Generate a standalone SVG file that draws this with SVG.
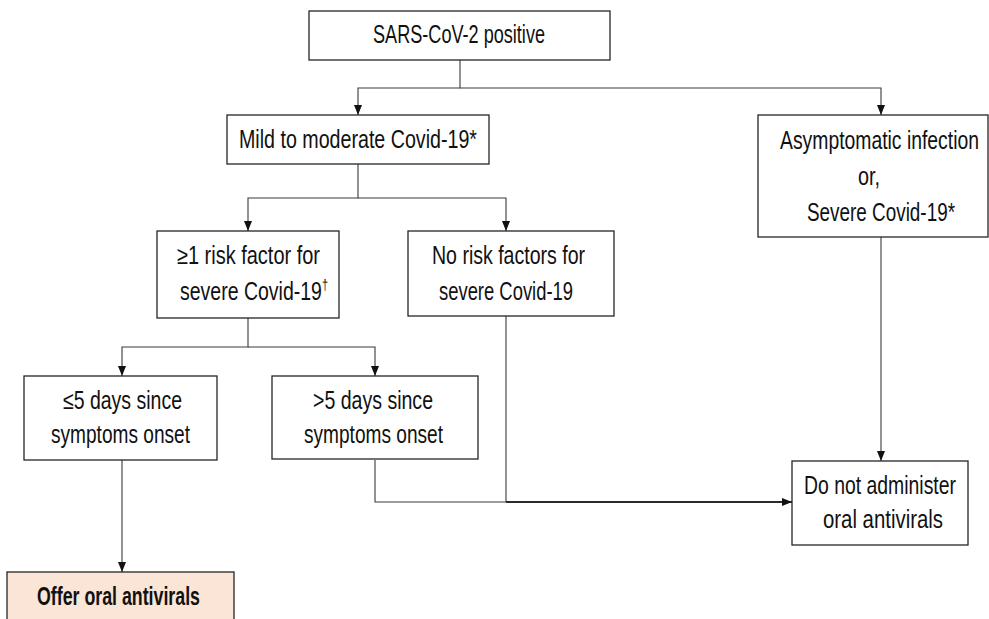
<svg xmlns="http://www.w3.org/2000/svg" width="989" height="619" viewBox="0 0 989 619">
<style>
.box{fill:#ffffff;stroke:#262626;stroke-width:1.3}
.hl{fill:#fbe5d6;stroke:#262626;stroke-width:1.3}
.t{font-family:"Liberation Sans",Arial,sans-serif;font-size:25px;fill:#111111}
.b{font-family:"Liberation Sans",Arial,sans-serif;font-size:25px;font-weight:bold;fill:#111111}
.c{fill:none;stroke:#3a3a3a;stroke-width:1.1}
.c2{fill:none;stroke:#2a2a2a;stroke-width:1.8}
</style>
<defs>
<marker id="ah" viewBox="0 0 10 8" refX="10" refY="4" markerWidth="10" markerHeight="8" markerUnits="userSpaceOnUse" orient="auto">
<path d="M0,0 L10,4 L0,8 z" fill="#111111"/>
</marker>
</defs>
<rect width="989" height="619" fill="#ffffff"/>
<g id="connectors">
<path class="c" d="M460 60 V88 H358 V115" marker-end="url(#ah)"/>
<path class="c" d="M460 88 H881 V115" marker-end="url(#ah)"/>
<path class="c" d="M358 164 V198 H248 V231" marker-end="url(#ah)"/>
<path class="c" d="M358 198 H506 V231" marker-end="url(#ah)"/>
<path class="c" d="M248 318 V347 H122 V376" marker-end="url(#ah)"/>
<path class="c" d="M248 347 H375 V376" marker-end="url(#ah)"/>
<path class="c" d="M122 460 V572" marker-end="url(#ah)"/>
<path class="c" d="M881 237 V461" marker-end="url(#ah)"/>
<path class="c" d="M506 316 V502"/>
<path class="c" d="M375 460 V502 H506"/>
<path class="c2" d="M506 502 H792" marker-end="url(#ah)"/>
</g>
<g id="n-positive">
<rect class="box" x="309" y="11" width="301" height="49"/>
<text class="t" x="373" y="43" textLength="172" lengthAdjust="spacingAndGlyphs">SARS-CoV-2 positive</text>
</g>
<g id="n-mild">
<rect class="box" x="227" y="115" width="262" height="49"/>
<text class="t" x="239" y="148" textLength="238" lengthAdjust="spacingAndGlyphs">Mild to moderate Covid-19*</text>
</g>
<g id="n-asymptomatic">
<rect class="box" x="758" y="115" width="230" height="122"/>
<text class="t" x="780" y="149" textLength="199" lengthAdjust="spacingAndGlyphs">Asymptomatic infection</text>
<text class="t" x="858" y="185" textLength="22" lengthAdjust="spacingAndGlyphs">or,</text>
<text class="t" x="807" y="221" textLength="148" lengthAdjust="spacingAndGlyphs">Severe Covid-19*</text>
</g>
<g id="n-risk">
<rect class="box" x="157" y="231" width="182" height="87"/>
<text class="t" x="177" y="264" textLength="143" lengthAdjust="spacingAndGlyphs">≥1 risk factor for</text>
<text class="t" x="180" y="300" textLength="148" lengthAdjust="spacingAndGlyphs">severe Covid-19<tspan font-size="14" dy="-10">†</tspan></text>
</g>
<g id="n-norisk">
<rect class="box" x="408" y="231" width="206" height="85"/>
<text class="t" x="432" y="264" textLength="153" lengthAdjust="spacingAndGlyphs">No risk factors for</text>
<text class="t" x="439" y="300" textLength="134" lengthAdjust="spacingAndGlyphs">severe Covid-19</text>
</g>
<g id="n-le5">
<rect class="box" x="24" y="376" width="193" height="84"/>
<text class="t" x="63" y="409" textLength="119" lengthAdjust="spacingAndGlyphs">≤5 days since</text>
<text class="t" x="51" y="443" textLength="139" lengthAdjust="spacingAndGlyphs">symptoms onset</text>
</g>
<g id="n-gt5">
<rect class="box" x="272" y="376" width="206" height="83"/>
<text class="t" x="313" y="409" textLength="120" lengthAdjust="spacingAndGlyphs">&gt;5 days since</text>
<text class="t" x="304" y="443" textLength="139" lengthAdjust="spacingAndGlyphs">symptoms onset</text>
</g>
<g id="n-donot">
<rect class="box" x="792" y="461" width="176" height="84"/>
<text class="t" x="804" y="494" textLength="152" lengthAdjust="spacingAndGlyphs">Do not administer</text>
<text class="t" x="823" y="528" textLength="120" lengthAdjust="spacingAndGlyphs">oral antivirals</text>
</g>
<g id="n-offer">
<rect class="hl" x="7" y="572" width="227" height="60"/>
<text class="b" x="37" y="605" textLength="163" lengthAdjust="spacingAndGlyphs">Offer oral antivirals</text>
</g>
</svg>
